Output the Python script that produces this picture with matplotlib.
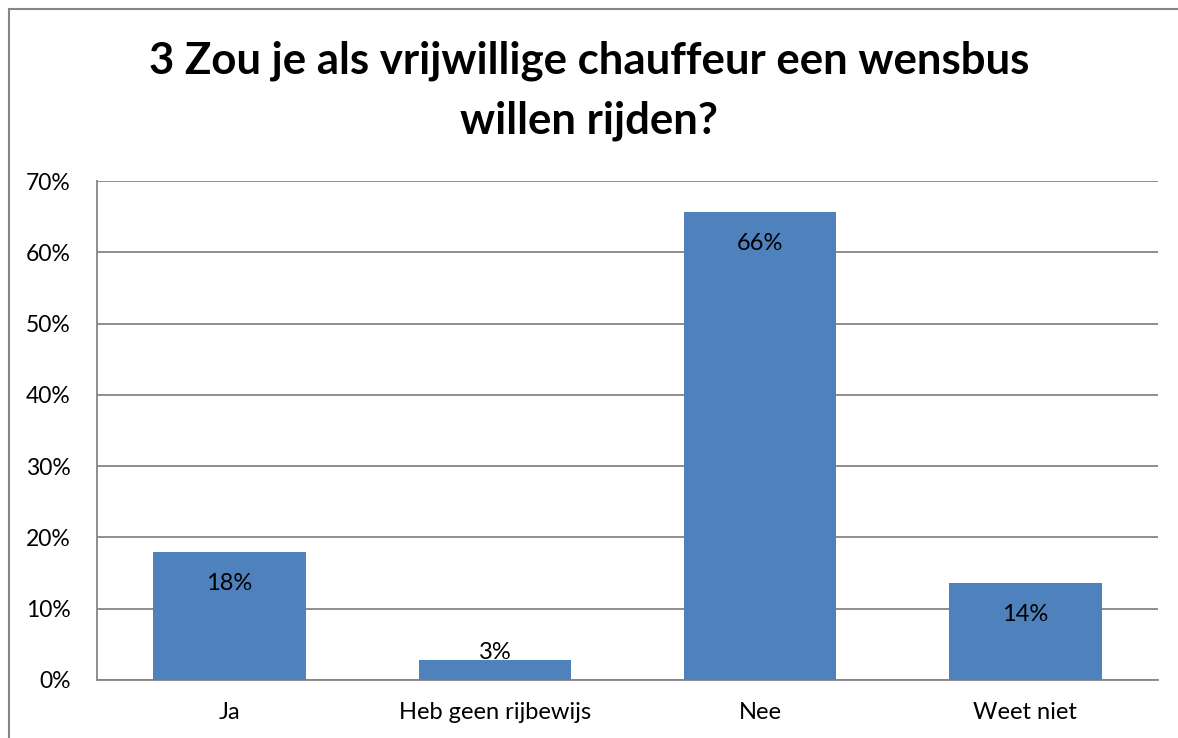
import matplotlib
matplotlib.use("Agg")
import matplotlib.pyplot as plt
from matplotlib.patches import Rectangle

categories = ["Ja", "Heb geen rijbewijs", "Nee", "Weet niet"]
values = [17.9, 2.8, 65.6, 13.6]
labels = ["18%", "3%", "66%", "14%"]
yticks = [0, 10, 20, 30, 40, 50, 60, 70]
title = "3 Zou je als vrijwillige chauffeur een wensbus\nwillen rijden?"

plt.rcParams['font.family'] = ['Lato', 'DejaVu Sans']

fig = plt.figure(figsize=(11.78, 7.38), dpi=100)
ax = fig.add_axes([97/1178, 1-680/738, (1158-97)/1178, (680-181)/738])

x = list(range(len(categories)))
ax.bar(x, values, width=0.575, color="#4F81BD", zorder=3)
ax.set_xlim(-0.5, len(categories) - 0.5)
ax.set_ylim(0, 70)
ax.set_yticks(yticks)
ax.set_yticklabels([f"{t}%" for t in yticks], fontsize=16.5)
ax.set_xticks(x)
ax.set_xticklabels(categories, fontsize=17)
ax.tick_params(axis='both', length=0)
ax.tick_params(axis='y', pad=19)
ax.tick_params(axis='x', pad=16)
ax.grid(axis='y', color="#868686", linewidth=1.3, zorder=0)
for s in ['top', 'right']:
    ax.spines[s].set_visible(False)
for s in ['left', 'bottom']:
    ax.spines[s].set_color("#868686")
    ax.spines[s].set_linewidth(1.3)

for xi, v, lab in zip(x, values, labels):
    y = max(v - 4.35, 3.9)
    ax.text(xi, y, lab, ha='center', va='center', fontsize=17, zorder=4)

fig.text(589/1178, 1-91/738, title, ha='center', va='center',
         fontsize=31.5, fontweight='bold', linespacing=1.6)

fig.patches.append(Rectangle((8.5/1178, -0.1), 1.2, 1.1 - 9.5/738 + 0.0,
                             transform=fig.transFigure, fill=False,
                             edgecolor="#868686", linewidth=1.5))

fig.savefig("out.png", dpi=100)
